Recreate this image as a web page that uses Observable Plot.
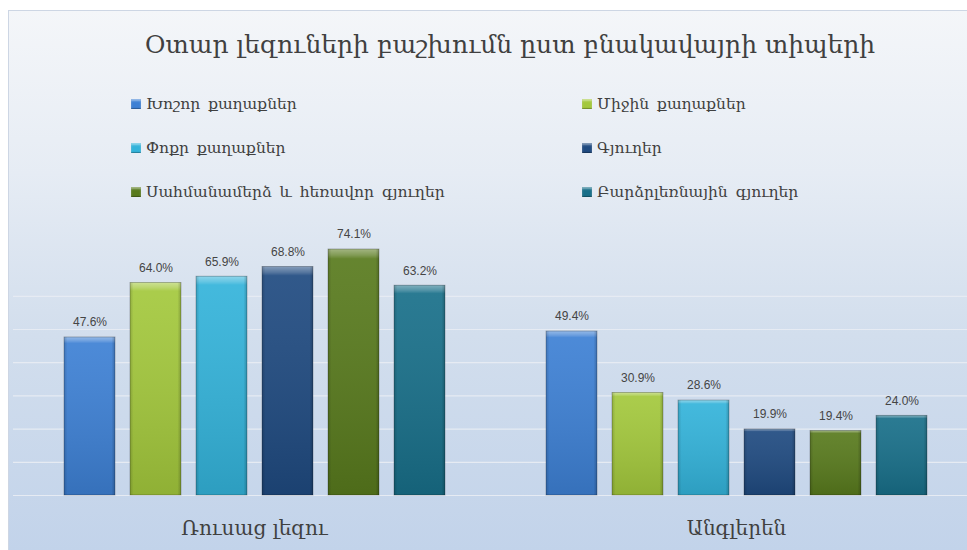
<!DOCTYPE html>
<html>
<head>
<meta charset="utf-8">
<script src="https://cdn.jsdelivr.net/npm/d3@7"></script>
<script src="https://cdn.jsdelivr.net/npm/@observablehq/plot@0.6"></script>
<style>
  html, body { margin: 0; padding: 0; background: #ffffff; overflow: hidden; width: 967px; height: 550px; }
  #frame { position: absolute; left: 8px; top: 10px; width: 959px; height: 540px;
    border-left: 1px solid #cdd6e4; border-top: 1px solid #cdd6e4;
    background: linear-gradient(to bottom, #f4f6f9 0%, #e6ecf4 30%, #d2deed 60%, #c2d3ea 100%); }
  #title { position: absolute; left: 0; top: 30px; width: 1020px; text-align: center;
    font-family: "DejaVu Serif", serif; font-size: 25px; color: #404040; }
  .leg { position: absolute; font-family: "DejaVu Serif", serif; font-size: 15.5px; color: #404040;
    display: flex; align-items: center; white-space: nowrap; word-spacing: 3px; }
  .sw { width: 10px; height: 10px; margin-right: 5px; box-shadow: inset 0 2px 2px rgba(255,255,255,0.45), inset 0 -1px 1px rgba(0,0,0,0.3); }
  #chart { position: absolute; left: 0; top: 215px; }
  #chart svg { overflow: visible; }
  #chart g[aria-label="fx-axis tick label"] text { font-family: "DejaVu Serif", serif; }
</style>
</head>
<body>
<div id="frame"></div>
<div id="title"></div>
<div id="legend"></div>
<div id="chart"></div>
<script>
const titleText = "Օտար լեզուների բաշխումն ըստ բնակավայրի տիպերի";
const categories = ["Ռուսաց լեզու", "Անգլերեն"];
const series = [
  "Խոշոր քաղաքներ",
  "Միջին քաղաքներ",
  "Փոքր քաղաքներ",
  "Գյուղեր",
  "Սահմանամերձ և հեռավոր գյուղեր",
  "Բարձրլեռնային գյուղեր"
];
const russianValues = [47.6, 64.0, 65.9, 68.8, 74.1, 63.2];
const englishValues = [49.4, 30.9, 28.6, 19.9, 19.4, 24.0];
const seriesColors = ["#3d80d4", "#a3c83c", "#33b3da", "#1f4a80", "#587a1d", "#186f89"];
const gridTicks = [0, 10, 20, 30, 40, 50, 60];

document.getElementById("title").textContent = titleText;

// legend (2 columns, 3 rows)
const legend = document.getElementById("legend");
series.forEach((s, i) => {
  const col = i % 2, row = Math.floor(i / 2);
  const item = document.createElement("div");
  item.className = "leg";
  item.style.left = (col === 0 ? 131 : 582) + "px";
  item.style.top = (95 + row * 44) + "px";
  const sw = document.createElement("div");
  sw.className = "sw";
  sw.style.background = seriesColors[i];
  const tx = document.createElement("span");
  tx.textContent = s;
  item.appendChild(sw);
  item.appendChild(tx);
  legend.appendChild(item);
});

const valuesByCategory = [russianValues, englishValues];
const data = categories.flatMap((c, ci) =>
  series.map((s, si) => ({category: c, series: s, value: valuesByCategory[ci][si]}))
);

const chart = Plot.plot({
  width: 967,
  height: 335,
  marginLeft: 13,
  marginRight: 0,
  marginTop: 14.4,
  marginBottom: 55,
  style: {background: "transparent", overflow: "visible"},
  fx: {domain: categories, range: [13, 977], padding: 0, label: null},
  x: {domain: series, paddingInner: 0.23, paddingOuter: 0.75, axis: null},
  y: {domain: [0, 80], axis: null},
  color: {domain: series, range: seriesColors},
  marks: [
    Plot.ruleY(gridTicks, {stroke: "#e6ebf3", strokeWidth: 1.2}),
    Plot.barY(data, {fx: "category", x: "series", y: "value", fill: "series"}),
    Plot.barY(data, {fx: "category", x: "series", y: "value", fill: "url(#shadeV)", stroke: "rgba(0,0,0,0.3)", strokeWidth: 0.8}),
    Plot.barY(data, {fx: "category", x: "series", y: "value", fill: "url(#shadeH)"}),
    Plot.text(data, {fx: "category", x: "series", y: "value", text: d => d.value.toFixed(1) + "%",
      dy: -15, fontSize: 12, fontFamily: "Liberation Sans, sans-serif", fill: "#454545"}),
    Plot.axisFx({anchor: "bottom", tickSize: 0, tickPadding: 25, fontSize: 20, label: null, color: "#404040"})
  ]
});

// gradient definitions for bar shading
const ns = "http://www.w3.org/2000/svg";
const defs = document.createElementNS(ns, "defs");
defs.innerHTML = `
  <linearGradient id="shadeV" x1="0" y1="0" x2="0" y2="1">
    <stop offset="0" stop-color="#ffffff" stop-opacity="0.45"/>
    <stop offset="0.025" stop-color="#ffffff" stop-opacity="0.25"/>
    <stop offset="0.04" stop-color="#ffffff" stop-opacity="0.08"/>
    <stop offset="1" stop-color="#000000" stop-opacity="0.12"/>
  </linearGradient>
  <linearGradient id="shadeH" x1="0" y1="0" x2="1" y2="0">
    <stop offset="0" stop-color="#000000" stop-opacity="0.15"/>
    <stop offset="0.07" stop-color="#000000" stop-opacity="0"/>
    <stop offset="0.93" stop-color="#000000" stop-opacity="0"/>
    <stop offset="1" stop-color="#000000" stop-opacity="0.2"/>
  </linearGradient>`;
chart.insertBefore(defs, chart.firstChild);
document.getElementById("chart").appendChild(chart);
</script>
</body>
</html>
